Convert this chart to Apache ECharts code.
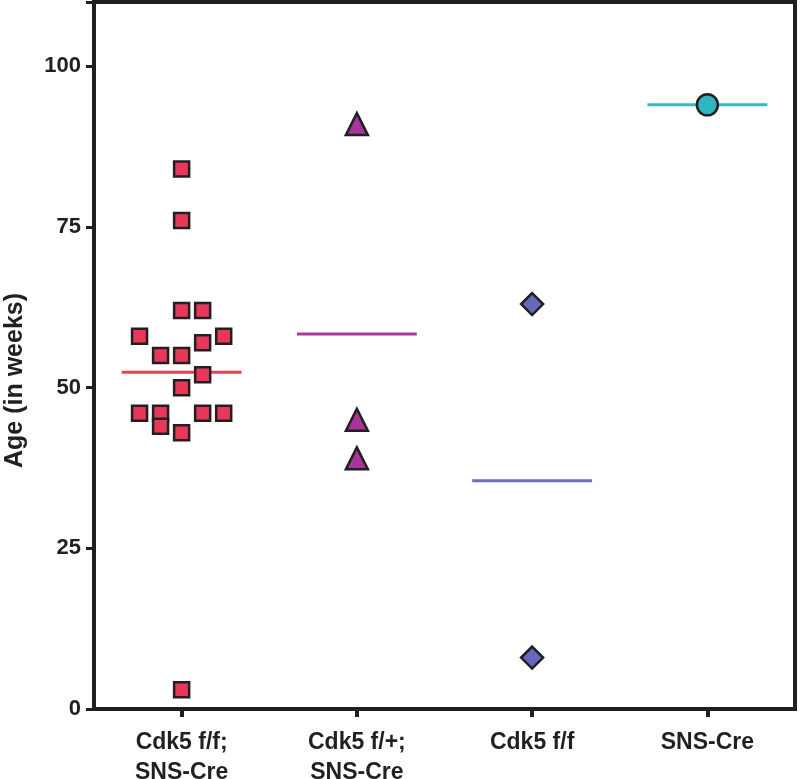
<!DOCTYPE html>
<html>
<head>
<meta charset="utf-8">
<script src="https://cdn.jsdelivr.net/npm/echarts@6/dist/echarts.min.js"></script>
<style>html,body{margin:0;padding:0;background:#fff}#c{width:800px;height:779px}</style>
</head>
<body>
<div id="c"></div>
<script>
const categories = ['Cdk5 f/f;\nSNS-Cre', 'Cdk5 f/+;\nSNS-Cre', 'Cdk5 f/f', 'SNS-Cre'];
const yTicks = [0, 25, 50, 75, 100];
// Age (weeks) per group, with horizontal jitter (in category units)
const groupFFSns = [84, 76, 62, 62, 58, 58, 57, 55, 55, 52, 50, 46, 46, 46, 46, 44, 43, 3];
const groupFFSnsJitter = [0, 0, 0, 0.12, -0.24, 0.24, 0.12, -0.12, 0, 0.12, 0, -0.24, -0.12, 0.12, 0.24, -0.12, 0, 0];
const groupFPSns = [91, 45, 39];
const groupFPSnsJitter = [0, 0, 0];
const groupFF = [63, 8];
const groupFFJitter = [0, 0];
const groupSns = [94];
const groupSnsJitter = [0];

const groups = [
  {vals: groupFFSns, jit: groupFFSnsJitter, symbol: 'rect', size: 15, fill: '#e8385a', line: '#ea4252'},
  {vals: groupFPSns, jit: groupFPSnsJitter, symbol: 'triangle', size: 22, fill: '#a83599', line: '#b0349a'},
  {vals: groupFF, jit: groupFFJitter, symbol: 'diamond', size: 22, fill: '#6767bd', line: '#6e6ec2'},
  {vals: groupSns, jit: groupSnsJitter, symbol: 'circle', size: 21, fill: '#2fb6bf', line: '#30b9c6'}
];
const halfWidth = 0.342;
const mean = a => a.reduce((s, v) => s + v, 0) / a.length;

const series = [];
groups.forEach((g, i) => {
  const m = mean(g.vals);
  series.push({
    type: 'line', xAxisIndex: 1, yAxisIndex: 0, symbol: 'none', z: 2, silent: true,
    lineStyle: {color: g.line, width: 3},
    data: [[i - halfWidth, m], [i + halfWidth, m]]
  });
  series.push({
    type: 'scatter', xAxisIndex: 1, yAxisIndex: 0, z: 3,
    symbol: g.symbol, symbolSize: g.size,
    itemStyle: {color: g.fill, borderColor: '#231f20', borderWidth: 2.5, opacity: 1},
    data: g.vals.map((v, k) => [i + g.jit[k], v])
  });
});

const chart = echarts.init(document.getElementById('c'), null, {renderer: 'canvas'});
chart.setOption({
  animation: false,
  backgroundColor: '#fff',
  grid: {left: 94, right: 5, top: 2, bottom: 70, containLabel: false, outerBoundsMode: 'none',
         show: true, borderColor: '#231f20', borderWidth: 4},
  xAxis: [
    {
      type: 'category', data: categories, boundaryGap: true,
      axisLine: {show: true, onZero: false, lineStyle: {color: '#231f20', width: 4}},
      axisTick: {show: true, alignWithLabel: true, length: 8, lineStyle: {color: '#231f20', width: 4}},
      axisLabel: {
        margin: 19, color: '#231f20', fontFamily: '"Liberation Sans", Arial, sans-serif',
        fontWeight: 'bold', fontSize: 23, lineHeight: 30, verticalAlign: 'top'
      },
      splitLine: {show: false}
    },
    {type: 'value', min: -0.5, max: 3.5, show: false, splitLine: {show: false}}
  ],
  yAxis: {
    type: 'value', min: 0, max: 110, interval: 25,
    name: 'Age (in weeks)', nameLocation: 'middle', nameGap: 66,
    nameTextStyle: {color: '#231f20', fontFamily: '"Liberation Sans", Arial, sans-serif', fontWeight: 'bold', fontSize: 25,
                    padding: [0, 50, 0, 0]},
    axisLine: {show: true, onZero: false, lineStyle: {color: '#231f20', width: 4}},
    axisTick: {show: true, length: 8, lineStyle: {color: '#231f20', width: 3}},
    axisLabel: {
      margin: 13, color: '#231f20', fontFamily: '"Liberation Sans", Arial, sans-serif', fontWeight: 'bold', fontSize: 22,
      formatter: v => (yTicks.indexOf(v) >= 0 ? String(v) : '')
    },
    splitLine: {show: false}
  },
  series: series
});
</script>
</body>
</html>
